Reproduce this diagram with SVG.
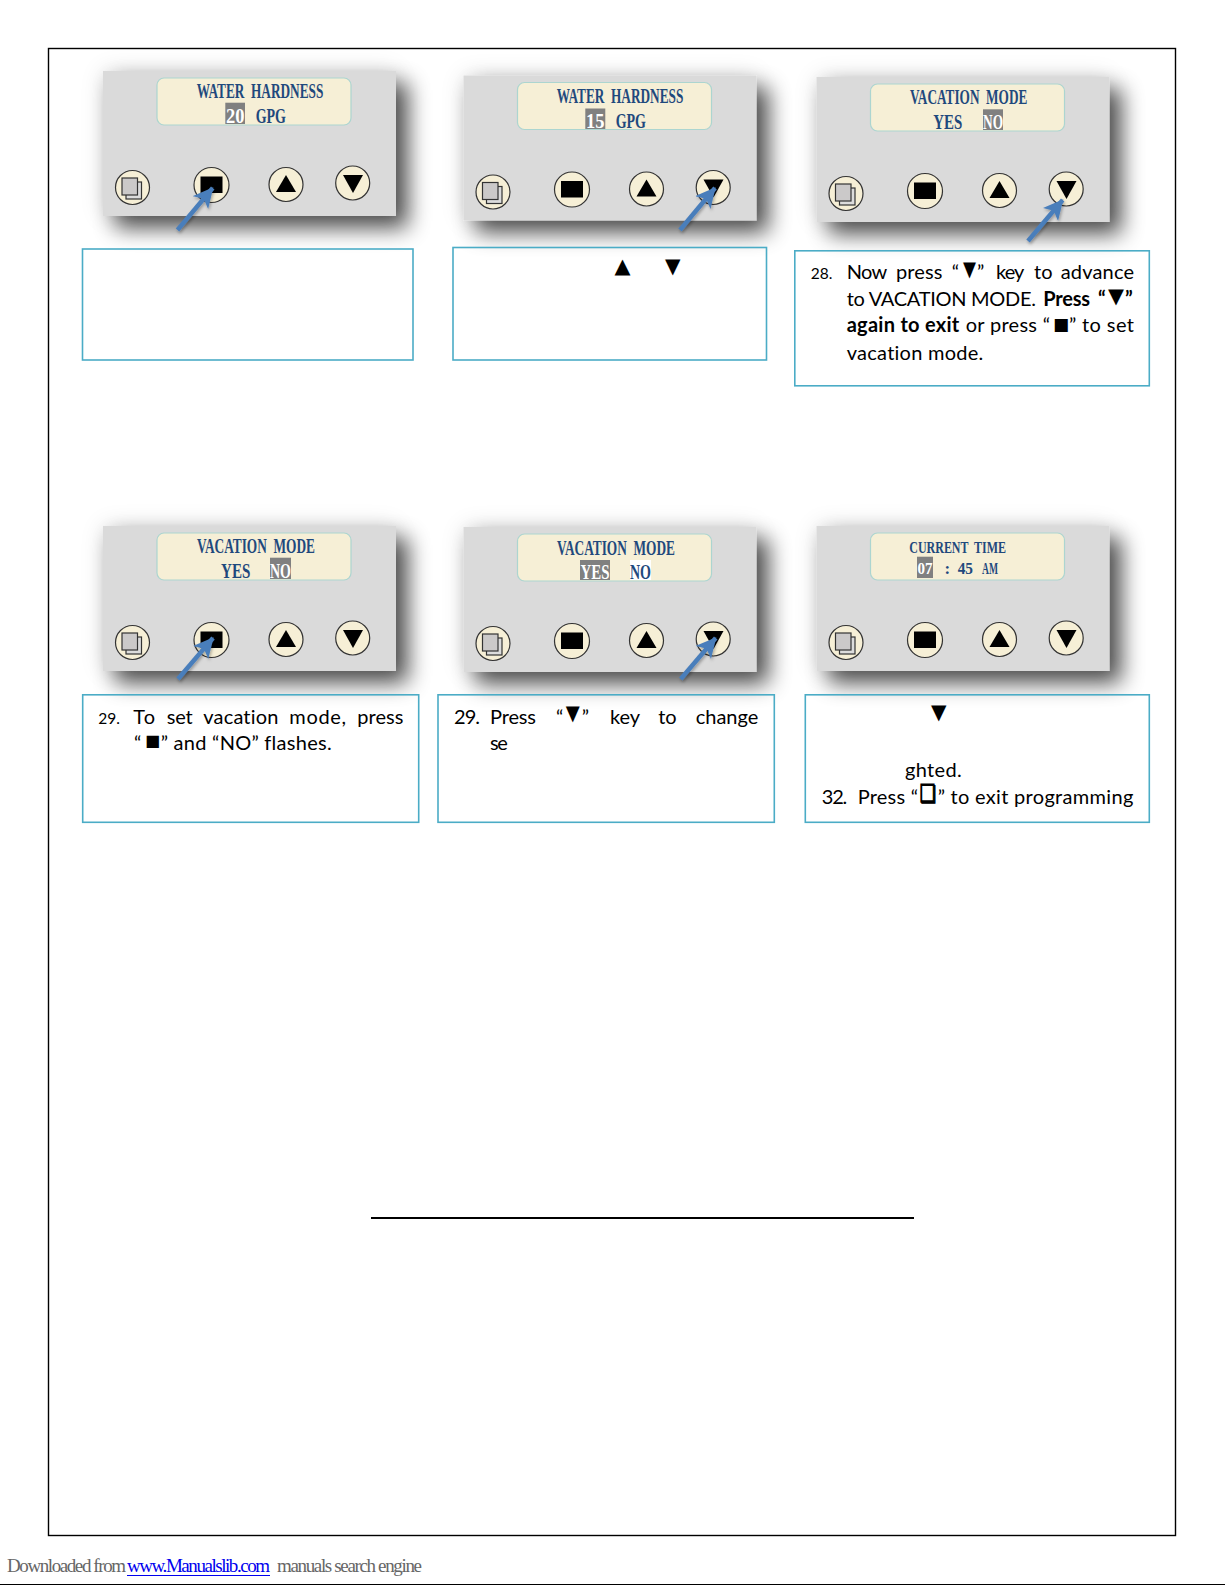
<svg xmlns="http://www.w3.org/2000/svg" xmlns:xlink="http://www.w3.org/1999/xlink" width="1225" height="1585" viewBox="0 0 1225 1585">
<style>
.box{fill:none;stroke:#4bacc6;stroke-width:1.6}
.lcd{fill:#f6efd6;stroke:#acd5d0;stroke-width:1.2}
.btn{fill:#f6efd6;stroke:#333;stroke-width:1.2}
.k{fill:#000}
.hl{fill:#808080}
.t{font-family:"Liberation Serif",serif;font-weight:bold;fill:#1f497d;font-size:20px;white-space:pre}
.s{font-size:17px}
.w{fill:#fff}
.b{font-family:Lato,"Open Sans",sans-serif;font-size:20px;fill:#000;font-variant-ligatures:none;transform:translateY(.8px)}
.n{font-size:15.5px}
.bd{font-weight:bold}
.g{font-family:"DejaVu Sans",sans-serif;font-size:21px;fill:#000}
.f{font-family:"Liberation Serif",serif;font-size:19px;fill:#666}
.arrow{fill:none;stroke:#4a7ebb;stroke-width:4.5}
</style>
<defs>
<filter id="sh" x="-25%" y="-40%" width="160%" height="200%">
<feGaussianBlur in="SourceAlpha" stdDeviation="11" result="b"/>
<feOffset in="b" dx="12" dy="12" result="o"/>
<feComponentTransfer in="o" result="o2"><feFuncA type="linear" slope="0.68"/></feComponentTransfer>
<feGaussianBlur in="SourceAlpha" stdDeviation="12" result="c"/>
<feComponentTransfer in="c" result="c2"><feFuncA type="linear" slope="0.13"/></feComponentTransfer>
<feMerge><feMergeNode in="c2"/><feMergeNode in="o2"/><feMergeNode in="SourceGraphic"/></feMerge>
</filter>
<filter id="ash" x="-30%" y="-30%" width="170%" height="170%"><feDropShadow dx="1" dy="2" stdDeviation="1.5" flood-color="#000" flood-opacity=".3"/></filter>
<marker id="ah" markerUnits="userSpaceOnUse" markerWidth="22" markerHeight="22" refX="19" refY="10" orient="auto"><path d="M0 0L20 10L0 20L5 10Z" fill="#4a7ebb"/></marker>
<g id="base">
<rect width="293" height="145" fill="#dadada" filter="url(#sh)"/>
<rect x="54" y="7" width="194" height="47" rx="7" class="lcd"/>
<circle cx="29.5" cy="116.5" r="17" class="btn"/>
<rect x="23" y="111" width="15.5" height="17" fill="#dcdcdc" stroke="#333" stroke-width="1.2"/>
<rect x="19" y="107" width="15.5" height="17" fill="#cbc9c9" stroke="#333" stroke-width="1.2"/>
<circle cx="108.5" cy="114" r="17.5" class="btn"/>
<rect x="97.5" y="105.5" width="22" height="16.5" class="k"/>
<circle cx="183" cy="113.5" r="17" class="btn"/>
<path d="M183 104L193 121H173Z" class="k"/>
<circle cx="249.7" cy="112" r="17" class="btn"/>
<path d="M240 104H260L250 122Z" class="k"/>
</g>
</defs>
<rect width="1225" height="1585" fill="#fff"/>
<rect x="48.5" y="48.5" width="1127" height="1487" fill="none" stroke="#000" stroke-width="1.4"/>

<g id="panel-1" transform="translate(103 71)"><use href="#base" xlink:href="#base"/>
<text class="t" x="93.7" y="27.3" textLength="126.6" lengthAdjust="spacingAndGlyphs">WATER  HARDNESS</text>
<rect class="hl" x="122.3" y="31.7" width="19.7" height="21.3"/><text class="t w" x="123" y="52.3" textLength="18.5" lengthAdjust="spacingAndGlyphs">20</text>
<text class="t" x="152.7" y="52.3" textLength="30.3" lengthAdjust="spacingAndGlyphs">GPG</text></g>

<g id="panel-2" transform="translate(463.5 75.5)"><use href="#base" xlink:href="#base"/>
<text class="t" x="93.2" y="27" textLength="126.6" lengthAdjust="spacingAndGlyphs">WATER  HARDNESS</text>
<rect class="hl" x="121.8" y="33" width="20" height="20.5"/><text class="t w" x="122.5" y="52.5" textLength="18.5" lengthAdjust="spacingAndGlyphs">15</text>
<text class="t" x="152.2" y="52.5" textLength="30.3" lengthAdjust="spacingAndGlyphs">GPG</text></g>

<g id="panel-3" transform="translate(816.5 77)"><use href="#base" xlink:href="#base"/>
<text class="t" x="93.5" y="27" textLength="117.3" lengthAdjust="spacingAndGlyphs">VACATION  MODE</text>
<text class="t" x="116.8" y="52.3" textLength="29" lengthAdjust="spacingAndGlyphs">YES</text>
<rect class="hl" x="166.5" y="32.3" width="20" height="20.7"/><text class="t w" x="166.5" y="52.3" textLength="20" lengthAdjust="spacingAndGlyphs">NO</text></g>

<g id="panel-4" transform="translate(103 526)"><use href="#base" xlink:href="#base"/>
<text class="t" x="94" y="27" textLength="118" lengthAdjust="spacingAndGlyphs">VACATION  MODE</text>
<text class="t" x="118" y="52.3" textLength="29.3" lengthAdjust="spacingAndGlyphs">YES</text>
<rect class="hl" x="167" y="31.7" width="21" height="21.3"/><text class="t w" x="167" y="52.3" textLength="21" lengthAdjust="spacingAndGlyphs">NO</text></g>

<g id="panel-5" transform="translate(463.5 527)"><use href="#base" xlink:href="#base"/>
<text class="t" x="93.5" y="27.5" textLength="118" lengthAdjust="spacingAndGlyphs">VACATION  MODE</text>
<rect class="hl" x="116.5" y="33" width="30" height="20"/><text class="t w" x="117" y="52.3" textLength="29" lengthAdjust="spacingAndGlyphs">YES</text>
<rect fill="#fff" x="166.5" y="33" width="21" height="20"/><text class="t" x="166.5" y="52.3" textLength="21" lengthAdjust="spacingAndGlyphs">NO</text></g>

<g id="panel-6" transform="translate(816.5 526)"><use href="#base" xlink:href="#base"/>
<text class="t s" x="92.8" y="27.3" textLength="96.7" lengthAdjust="spacingAndGlyphs">CURRENT  TIME</text>
<rect class="hl" x="100.5" y="30.7" width="16" height="21.3"/><text class="t w s" x="101" y="48" textLength="15" lengthAdjust="spacingAndGlyphs">07</text>
<text class="t s" x="128" y="48">:</text>
<text class="t s" x="141.2" y="48" textLength="15.3" lengthAdjust="spacingAndGlyphs">45</text>
<text class="t s" x="165.5" y="48" textLength="16" lengthAdjust="spacingAndGlyphs">AM</text></g>

<g id="connectors" filter="url(#ash)">
<path class="arrow" d="M177.5 230L212.7 188" marker-end="url(#ah)"/>
<path class="arrow" d="M680 230L715 188" marker-end="url(#ah)"/>
<path class="arrow" d="M1028 241L1062.7 200" marker-end="url(#ah)"/>
<path class="arrow" d="M178 679L213 638" marker-end="url(#ah)"/>
<path class="arrow" d="M680.7 679L715.7 638" marker-end="url(#ah)"/>
</g>

<g id="box-1"><rect class="box" x="82.5" y="249" width="330.5" height="111"/></g>
<g id="box-2"><rect class="box" x="453" y="247.5" width="313.5" height="112.5"/>
<text class="g" x="614.5" y="272.5" textLength="16" lengthAdjust="spacingAndGlyphs">▲</text><text class="g" x="665" y="272.5" textLength="15.5" lengthAdjust="spacingAndGlyphs">▼</text></g>
<g id="box-3"><rect class="box" x="794.8" y="250.8" width="354.5" height="135"/>
<text class="b n" x="810.7" y="278.3">28.</text>
<text class="b" x="846.7" y="278" textLength="40.6">Now</text>
<text class="b" x="896" y="278" textLength="46.3">press</text>
<text class="b" x="951.7" y="278">“</text><text class="g" x="963" y="275.5" textLength="13" lengthAdjust="spacingAndGlyphs">▼</text><text class="b" x="977" y="278">”</text>
<text class="b" x="996" y="278" textLength="28.3">key</text>
<text class="b" x="1034" y="278" textLength="18.7">to</text>
<text class="b" x="1060.7" y="278" textLength="73.3">advance</text>
<text class="b" x="846.7" y="305" textLength="189.3">to VACATION MODE.</text>
<text class="b bd" x="1043.3" y="305" textLength="46.7">Press</text>
<text class="b bd" x="1098" y="305">“</text><text class="g" x="1108" y="302.5" textLength="16" lengthAdjust="spacingAndGlyphs">▼</text><text class="b bd" x="1125" y="305">”</text>
<text class="b bd" x="846.7" y="331.7" textLength="112.6">again to exit</text>
<text class="b" x="965.7" y="331.7" textLength="84.3">or press “</text>
<text class="g" x="1053" y="330" style="font-size:17px">■</text>
<text class="b" x="1069" y="331.7" textLength="65">” to set</text>
<text class="b" x="846.7" y="359.3" textLength="136.6">vacation mode.</text></g>
<g id="box-4"><rect class="box" x="82.7" y="694.8" width="336" height="127.5"/>
<text class="b n" x="98.3" y="723">29.</text>
<text class="b" x="133.3" y="723" textLength="21.7">To</text>
<text class="b" x="166.7" y="723" textLength="26">set</text>
<text class="b" x="203.3" y="723" textLength="75">vacation</text>
<text class="b" x="289.3" y="723" textLength="56.7">mode,</text>
<text class="b" x="357.3" y="723" textLength="46">press</text>
<text class="b" x="134" y="749.3">“</text><text class="g" x="145" y="746.4" style="font-size:16px">■</text>
<text class="b" x="160.7" y="749.3" textLength="171">” and “NO” flashes.</text></g>
<g id="box-5"><rect class="box" x="438" y="694.8" width="336.3" height="127.5"/>
<text class="b" x="454" y="723" textLength="26">29.</text>
<text class="b" x="490" y="723" textLength="46">Press</text>
<text class="b" x="556" y="723">“</text><text class="g" x="565.7" y="719.5" textLength="14" lengthAdjust="spacingAndGlyphs">▼</text><text class="b" x="581.7" y="723">”</text>
<text class="b" x="610" y="723" textLength="30">key</text>
<text class="b" x="658.3" y="723" textLength="18.4">to</text>
<text class="b" x="695.7" y="723" textLength="62.6">change</text>
<text class="b" x="490" y="749.3" textLength="17.7">se</text></g>
<g id="box-6"><rect class="box" x="805.3" y="694.8" width="344" height="127.5"/>
<text class="g" x="931" y="719.2" textLength="15.5" lengthAdjust="spacingAndGlyphs">▼</text>
<text class="b" x="905" y="776.7" textLength="56.7">ghted.</text>
<text class="b" x="821.7" y="803" textLength="25.6">32.</text>
<text class="b" x="857.7" y="803" textLength="60.3">Press “</text>
<text class="g" x="920" y="801.7" textLength="16" lengthAdjust="spacingAndGlyphs" style="font-size:24px;stroke:#000;stroke-width:1.4">❏</text>
<text class="b" x="937.7" y="803" textLength="195.6">” to exit programming</text></g>

<path d="M371 1218H914" stroke="#000" stroke-width="1.8" fill="none"/>

<g id="footer">
<text class="f" x="7" y="1572" textLength="119">Downloaded from</text>
<text class="f" x="127" y="1572" textLength="143" style="fill:#0000ee">www.Manualslib.com</text>
<path d="M127 1575.5H270" stroke="#0000ee" stroke-width="1"/>
<text class="f" x="277" y="1572" textLength="145">manuals search engine</text>
<path d="M0 1584.5H1225" stroke="#000" stroke-width="1.2"/>
</g>
</svg>
